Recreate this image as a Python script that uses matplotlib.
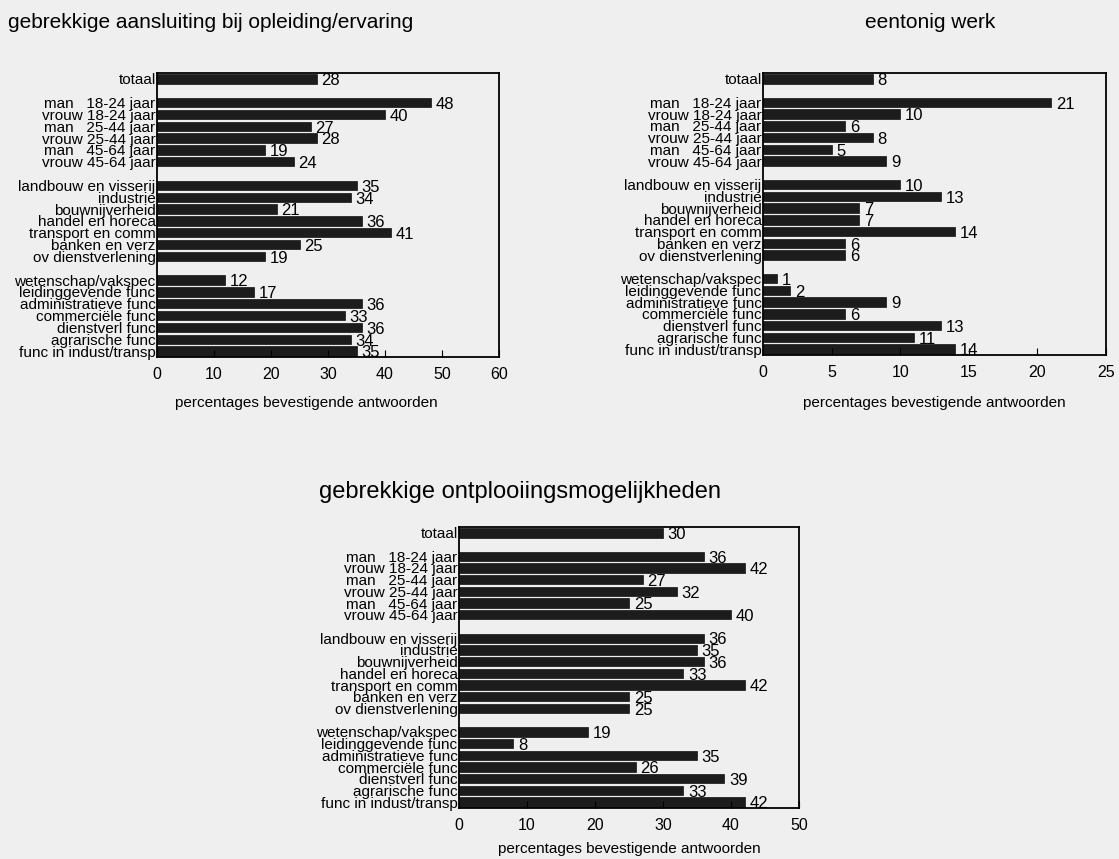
import matplotlib.pyplot as plt
import numpy as np

plt.rcParams['font.family'] = ['Liberation Sans', 'DejaVu Sans']

categories = [
    "totaal",
    "man   18-24 jaar", "vrouw 18-24 jaar", "man   25-44 jaar",
    "vrouw 25-44 jaar", "man   45-64 jaar", "vrouw 45-64 jaar",
    "landbouw en visserij", "industrie", "bouwnijverheid", "handel en horeca",
    "transport en comm", "banken en verz", "ov dienstverlening",
    "wetenschap/vakspec", "leidinggevende func", "administratieve func",
    "commerciële func", "dienstverl func", "agrarische func",
    "func in indust/transp",
]
# rij-posities met witregels tussen de groepen
positions = [0, 2, 3, 4, 5, 6, 7, 9, 10, 11, 12, 13, 14, 15,
             17, 18, 19, 20, 21, 22, 23]

aansluiting = [28, 48, 40, 27, 28, 19, 24, 35, 34, 21, 36, 41, 25, 19,
               12, 17, 36, 33, 36, 34, 35]
eentonig = [8, 21, 10, 6, 8, 5, 9, 10, 13, 7, 7, 14, 6, 6,
            1, 2, 9, 6, 13, 11, 14]
ontplooiing = [30, 36, 42, 27, 32, 25, 40, 36, 35, 36, 33, 42, 25, 25,
               19, 8, 35, 26, 39, 33, 42]

bg = '#efefef'
bar_color = '#1c1c1c'
W, H = 1119, 859


def draw_panel(ax, values, xmax, step, offset, label_dx=0, label_dy=34):
    ax.set_facecolor(bg)
    ax.barh(positions, values, height=0.8, color=bar_color, edgecolor='#111111', linewidth=0.5)
    for p, v in zip(positions, values):
        ax.text(v + offset, p + 0.15, str(v), va='center', ha='left', fontsize=12)
    ax.set_ylim(23.5, -0.5)
    ax.set_xlim(0, xmax)
    ax.set_yticks(positions)
    ax.set_yticklabels(categories, fontsize=11)
    ax.tick_params(axis='y', length=0, pad=1)
    ax.tick_params(axis='x', direction='in', length=5, labelsize=11.5, pad=7)
    ax.set_xticks(np.arange(0, xmax + 1, step))
    for s in ax.spines.values():
        s.set_linewidth(1.3)
    ax.set_xlabel("percentages bevestigende antwoorden", fontsize=11)
    bbox = ax.get_position()
    ax.xaxis.set_label_coords(0.5 + label_dx / (bbox.width * W), -label_dy / (bbox.height * H))


fig = plt.figure(figsize=(11.19, 8.59), dpi=100, facecolor=bg)

ax1 = fig.add_axes([157 / W, 1 - 357 / H, (499 - 157) / W, (357 - 73) / H])
ax2 = fig.add_axes([763 / W, 1 - 355 / H, (1106 - 763) / W, (355 - 73) / H])
ax3 = fig.add_axes([459 / W, 1 - 808 / H, (799 - 459) / W, (808 - 527) / H])

draw_panel(ax1, aansluiting, 60, 10, 0.8, label_dx=-22, label_dy=39)
draw_panel(ax2, eentonig, 25, 5, 0.35, label_dy=41)
draw_panel(ax3, ontplooiing, 50, 10, 0.7, label_dy=34)

fig.text(8 / W, 1 - 22 / H, "gebrekkige aansluiting bij opleiding/ervaring",
         fontsize=15, va='center', ha='left')
fig.text(930 / W, 1 - 22 / H, "eentonig werk", fontsize=15, va='center', ha='center')
fig.text(520 / W, 1 - 492 / H, "gebrekkige ontplooiingsmogelijkheden",
         fontsize=17, va='center', ha='center')

fig.savefig("out.png", dpi=100, facecolor=bg)
